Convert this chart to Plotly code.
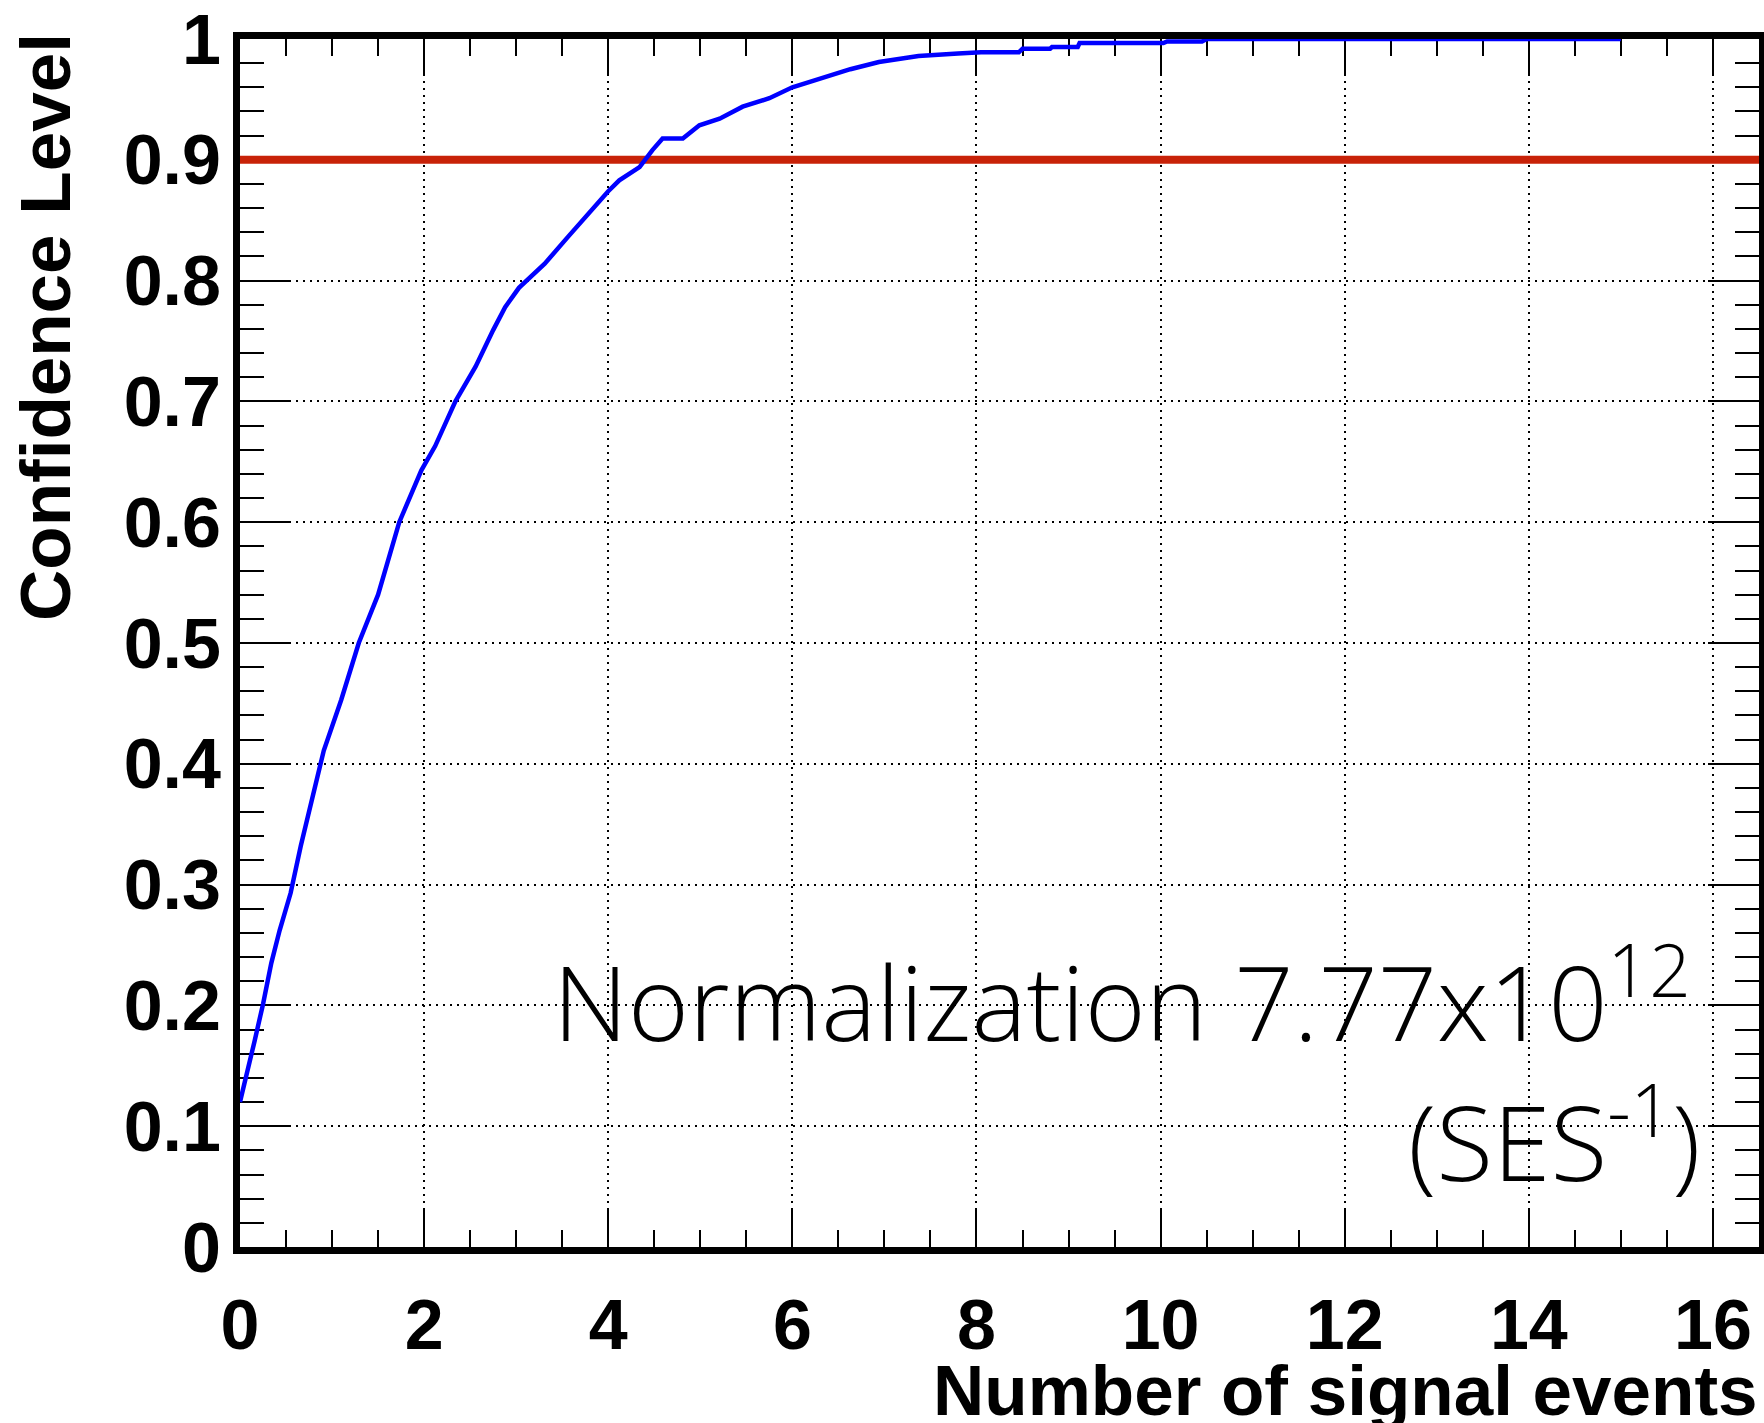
import plotly.graph_objects as go

# Confidence level vs. number of signal events
signal_events = [0.0, 0.07, 0.16, 0.25, 0.34, 0.43, 0.55, 0.66, 0.76, 0.91,
                 1.10, 1.29, 1.50, 1.73, 1.97, 2.12, 2.34, 2.56, 2.75, 2.88,
                 3.03, 3.31, 3.56, 3.81, 3.90, 4.00, 4.12, 4.34, 4.48, 4.59,
                 4.81, 4.99, 5.21, 5.46, 5.75, 6.00, 6.25, 6.63, 6.94, 7.17,
                 7.37, 7.80, 8.05, 8.46, 8.50, 8.80, 8.82, 9.10, 9.12, 10.03,
                 10.07, 10.45, 10.50, 15.0]
confidence = [0.120, 0.144, 0.171, 0.201, 0.235, 0.262, 0.293, 0.332, 0.365, 0.411,
              0.453, 0.500, 0.540, 0.600, 0.643, 0.663, 0.700, 0.729, 0.759, 0.778,
              0.794, 0.814, 0.836, 0.858, 0.866, 0.874, 0.883, 0.894, 0.908, 0.9176,
              0.9176, 0.9286, 0.934, 0.944, 0.951, 0.960, 0.966, 0.975, 0.981, 0.984,
              0.986, 0.988, 0.989, 0.989, 0.992, 0.992, 0.9934, 0.9934, 0.9967, 0.9967,
              0.998, 0.998, 1.0, 1.0]

cl_level = 0.9
x_limits = [0, 16.5]
y_limits = [0, 1]

x_tickvals = [0, 2, 4, 6, 8, 10, 12, 14, 16]
x_ticktext = ["0", "2", "4", "6", "8", "10", "12", "14", "16"]
y_tickvals = [0, 0.1, 0.2, 0.3, 0.4, 0.5, 0.6, 0.7, 0.8, 0.9, 1.0]
y_ticktext = ["0", "0.1", "0.2", "0.3", "0.4", "0.5", "0.6", "0.7", "0.8", "0.9", "1"]

W, H = 1764, 1423
ML, MR, MT, MB = 240, 5, 39, 176
PW, PH = W - ML - MR, H - MT - MB


def px_x(p):
    return (p - ML) / PW


def px_y(p):
    return (H - MB - p) / PH


fig = go.Figure()

fig.add_trace(go.Scatter(
    x=x_limits, y=[cl_level, cl_level], mode="lines",
    line=dict(color="#c82208", width=8), hoverinfo="skip", showlegend=False,
))
fig.add_trace(go.Scatter(
    x=signal_events, y=confidence, mode="lines",
    line=dict(color="#0000ff", width=4.5), cliponaxis=False, showlegend=False,
))

tick_font = dict(family="Liberation Sans, Arial, sans-serif", size=70,
                 color="black", weight="bold")

common = dict(
    showline=True, linewidth=7, linecolor="black", mirror="ticks",
    ticks="inside", tickwidth=2, tickcolor="black",
    showgrid=True, gridcolor="black", gridwidth=1.5, griddash="2px,5px",
    zeroline=False, layer="below traces", tickfont=tick_font,
)

fig.update_xaxes(
    range=x_limits, tickmode="array", tickvals=x_tickvals, ticktext=x_ticktext,
    ticklen=37, ticklabelstandoff=11,
    minor=dict(dtick=0.5, tick0=0, ticks="inside", ticklen=17, tickwidth=2,
               tickcolor="black", showgrid=False),
    **common,
)
fig.update_yaxes(
    range=y_limits, tickmode="array", tickvals=y_tickvals, ticktext=y_ticktext,
    ticklen=51, ticklabelstandoff=-2,
    minor=dict(dtick=0.02, tick0=0, ticks="inside", ticklen=24, tickwidth=2,
               tickcolor="black", showgrid=False),
    **common,
)

title_font = dict(family="Liberation Sans, Arial, sans-serif", size=71,
                  color="black", weight="bold")
note_font = dict(family="Open Sans, Noto Sans, sans-serif", size=104,
                 color="black", weight=300)

annotations = [
    dict(text="Number of signal events", xref="paper", yref="paper",
         x=px_x(1760), y=px_y(1390), xanchor="right", yanchor="middle",
         showarrow=False, font=title_font),
    dict(text="Confidence Level", xref="paper", yref="paper",
         x=px_x(45), y=px_y(327), xanchor="center", yanchor="middle",
         textangle=-90, showarrow=False, font=title_font),
    dict(text="Normalization 7.77x10<sup>12</sup>", xref="paper", yref="paper",
         x=px_x(1693), y=px_y(995), xanchor="right", yanchor="middle",
         showarrow=False, font=note_font),
    dict(text="(SES<sup>-1</sup>)", xref="paper", yref="paper",
         x=px_x(1702), y=px_y(1135), xanchor="right", yanchor="middle",
         showarrow=False, font=note_font),
]

fig.update_layout(
    width=W, height=H,
    margin=dict(l=ML, r=MR, t=MT, b=MB, pad=0, autoexpand=False),
    plot_bgcolor="white", paper_bgcolor="white",
    showlegend=False, annotations=annotations,
)

fig.write_html("out.html")
